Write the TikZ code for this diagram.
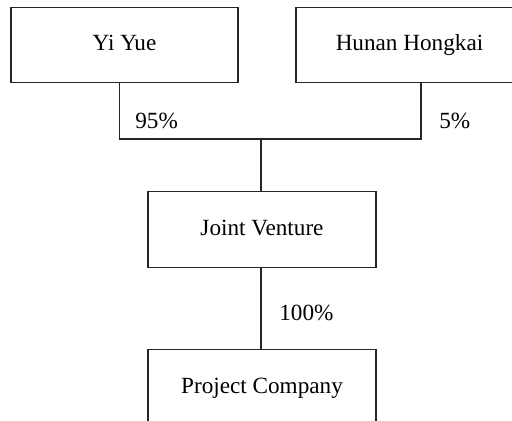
\documentclass[tikz,border=0pt]{standalone}
\usepackage{fontspec}
\setmainfont{Liberation Serif}
\begin{document}
\begin{tikzpicture}[
  x=0.02cm, y=-0.02cm,
  party/.style={rectangle, draw=black!85, line width=0.6pt, minimum width=4.54cm, minimum height=1.51cm, inner sep=0pt, text height=0.9em, text depth=0.24em, font=\fontsize{13.2}{15}\selectfont},
  share/.style={anchor=west, inner sep=0pt, font=\fontsize{13.2}{15}\selectfont},
  link/.style={draw=black!85, line width=0.6pt},
  ]
 \clip (0,0) rectangle (512,421);
 \node [party] (yi) at (124.5,45) {Yi Yue};
 \node [party] (hh) at (409.5,45) {Hunan Hongkai};
 \node [party, minimum width=4.56cm] (jv) at (262,229.5) {Joint Venture};
 \node [party, minimum width=4.56cm] (pc) at (262,387.5) {Project Company};
 \coordinate (split) at (261,139);
 \draw [link] ([xshift=-0.1cm]yi.south) |- (split);
 \draw [link] ([xshift=0.23cm]hh.south) |- (split);
 \draw [link] (split) -- (split |- jv.north);
 \draw [link] (jv.south -| split) -- (pc.north -| split);
 \node [share] (p1) at (135,121) {95\%};
 \node [share] (p2) at (439,121) {5\%};
 \node [share] (p3) at (279,313) {100\%};
\end{tikzpicture}
\end{document}
